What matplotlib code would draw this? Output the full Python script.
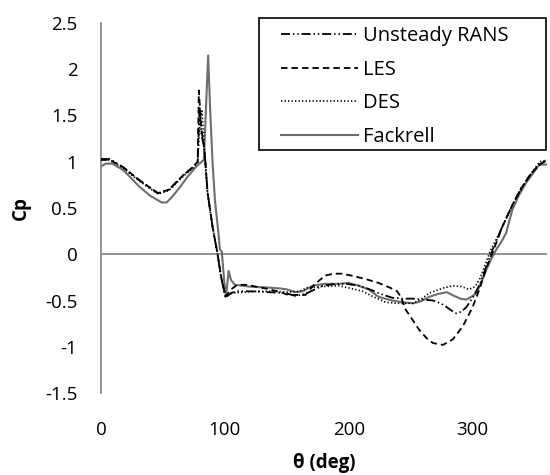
import numpy as np
import matplotlib
matplotlib.use("Agg")
import matplotlib.pyplot as plt
from matplotlib.patches import Rectangle

# ---------------- data ----------------
rans_theta = [0, 7, 18, 31, 46, 55, 66, 74, 78, 79.5, 81, 83.5, 86, 90, 94, 97, 100.5, 105, 109,
              120, 135, 149, 157, 165, 171, 179, 190, 198, 208, 217, 226, 235, 244, 252, 260,
              268, 274, 279, 283, 287, 291, 295, 300, 306, 311, 317, 324, 332, 339, 346, 353, 359]
rans_cp = [1.03, 1.03, 0.94, 0.80, 0.66, 0.70, 0.85, 0.94, 1.0, 1.6, 1.3, 1.14, 0.67, 0.30, 0.01,
           -0.25, -0.47, -0.42, -0.40, -0.40, -0.41, -0.42, -0.45, -0.43, -0.39, -0.34, -0.32,
           -0.32, -0.34, -0.38, -0.43, -0.47, -0.48, -0.48, -0.49, -0.50, -0.53, -0.57, -0.61,
           -0.64, -0.62, -0.57, -0.47, -0.32, -0.13, 0.08, 0.30, 0.53, 0.71, 0.85, 0.96, 1.01]

les_theta = [0, 7, 18, 31, 46, 55, 66, 74, 78, 79, 81, 83.5, 86, 90, 94, 97, 100.5, 105, 110,
             117, 125, 133, 145, 151, 158, 165, 172, 181, 188, 195, 205, 214, 224, 233, 239,
             242, 246, 252, 257, 263, 268, 276, 284, 292, 300, 306, 311, 317, 324, 332, 339,
             346, 353, 359]
les_cp = [1.02, 1.02, 0.94, 0.80, 0.66, 0.70, 0.85, 0.94, 1.0, 1.77, 1.35, 1.14, 0.67, 0.30, 0.01,
          -0.25, -0.46, -0.38, -0.33, -0.33, -0.35, -0.37, -0.41, -0.44, -0.44, -0.44, -0.33,
          -0.23, -0.21, -0.21, -0.24, -0.27, -0.31, -0.36, -0.40, -0.46, -0.60, -0.72, -0.82,
          -0.91, -0.96, -0.98, -0.92, -0.78, -0.57, -0.36, -0.15, 0.05, 0.30, 0.53, 0.71, 0.85,
          0.96, 1.01]

des_theta = [0, 7, 18, 31, 46, 55, 66, 74, 78, 80, 81.5, 83.5, 86, 90, 94, 97, 100.5, 106, 115,
             128, 140, 150, 160, 167, 178, 192, 202, 211, 220, 230, 240, 252, 258, 265, 275,
             284, 291, 297, 302, 306, 310, 314, 322, 332, 343, 354, 360]
des_cp = [1.02, 1.02, 0.93, 0.79, 0.65, 0.69, 0.84, 0.93, 0.99, 1.45, 1.55, 1.1, 0.65, 0.30, 0.0,
          -0.25, -0.45, -0.42, -0.41, -0.40, -0.40, -0.41, -0.40, -0.36, -0.35, -0.34, -0.37,
          -0.40, -0.46, -0.52, -0.53, -0.53, -0.49, -0.42, -0.37, -0.34, -0.35, -0.38, -0.35,
          -0.26, -0.12, 0.03, 0.24, 0.53, 0.79, 1.0, 1.02]

fack_theta = [0, 4, 9, 18, 31, 40, 49, 53, 58, 64, 70, 77, 83, 86.5, 88, 90, 92, 95, 96, 97.5,
              99.5, 101, 103, 105, 108, 120, 135, 145, 150, 157, 163, 171, 180, 192, 200, 208,
              216, 224, 235, 244, 252, 258, 265, 272, 279, 285, 290, 295, 300, 303, 307, 311,
              315, 319, 323, 327, 332, 337, 343, 349, 354, 360]
fack_cp = [0.95, 0.98, 0.98, 0.91, 0.73, 0.63, 0.56, 0.56, 0.63, 0.73, 0.84, 0.95, 1.02, 2.15,
           1.6, 1.0, 0.58, 0.2, 0.05, 0.03, -0.3, -0.45, -0.18, -0.28, -0.33, -0.35, -0.36,
           -0.37, -0.38, -0.41, -0.40, -0.34, -0.32, -0.32, -0.31, -0.34, -0.38, -0.46, -0.50,
           -0.52, -0.53, -0.51, -0.46, -0.43, -0.41, -0.45, -0.48, -0.49, -0.45, -0.42, -0.30,
           -0.17, -0.05, 0.05, 0.13, 0.23, 0.48, 0.63, 0.77, 0.88, 0.97, 0.97]

series_labels = ["Unsteady RANS", "LES", "DES", "Fackrell"]
x_ticks = [0, 100, 200, 300]
y_ticks = [-1.5, -1, -0.5, 0, 0.5, 1, 1.5, 2, 2.5]
y_tick_labels = ["-1.5", "-1", "-0.5", "0", "0.5", "1", "1.5", "2", "2.5"]
x_label = "θ (deg)"
y_label = "Cp"

# ---------------- figure ----------------
plt.rcParams["font.family"] = ["Open Sans", "DejaVu Sans"]
W, H = 550, 475
fig = plt.figure(figsize=(5.5, 4.75), dpi=100)
ax = fig.add_axes([101 / W, 1 - 393 / H, (547 - 101) / W, (393 - 23) / H])
ax.set_xlim(0, 360)
ax.set_ylim(-1.5, 2.5)

axis_grey = "#8a8a8a"
for s in ["top", "right", "bottom"]:
    ax.spines[s].set_visible(False)
ax.spines["left"].set_color(axis_grey)
ax.spines["left"].set_linewidth(1.3)
ax.axhline(0, color=axis_grey, lw=1.3, zorder=1)

fs = 13.5
ax.set_xticks(x_ticks)
ax.set_xticklabels([str(v) for v in x_ticks])
ax.set_yticks(y_ticks)
ax.set_yticklabels(y_tick_labels)
ax.tick_params(axis="both", length=0, labelsize=fs, colors="black")
ax.tick_params(axis="x", pad=20)
ax.tick_params(axis="y", pad=17)

ax.set_xlabel(x_label, fontsize=fs, fontweight="bold", labelpad=10)
ax.set_ylabel(y_label, fontsize=fs, fontweight="bold", labelpad=10)

lw = 1.3
l1, = ax.plot(rans_theta, rans_cp, color="black", lw=lw, dashes=(5, 1.6, 0.8, 1.6, 0.8, 1.6),
              label=series_labels[0], zorder=3)
l2, = ax.plot(les_theta, les_cp, color="black", lw=lw, dashes=(3.6, 2.2),
              label=series_labels[1], zorder=3)
l3, = ax.plot(des_theta, des_cp, color="black", lw=1.2, dashes=(0.8, 1.3),
              label=series_labels[2], zorder=3)
l4, = ax.plot(fack_theta, fack_cp, color="#6e6e6e", lw=1.5, label=series_labels[3], zorder=2)

# legend box
fig.patches.append(Rectangle((259 / W, 1 - 150 / H), (546 - 259) / W, (150 - 18) / H,
                             transform=fig.transFigure, facecolor="white",
                             edgecolor="black", lw=1.2, zorder=5))
lfs = 14.5
leg = fig.legend(handles=[l1, l2, l3, l4], loc="upper left",
                 bbox_to_anchor=(281 / W, 1 - 26 / H), frameon=False, fontsize=lfs,
                 handlelength=3.8, handletextpad=0.28, labelspacing=0.68,
                 borderpad=0, borderaxespad=0)
leg.set_zorder(6)

fig.savefig("out.png", dpi=100)
